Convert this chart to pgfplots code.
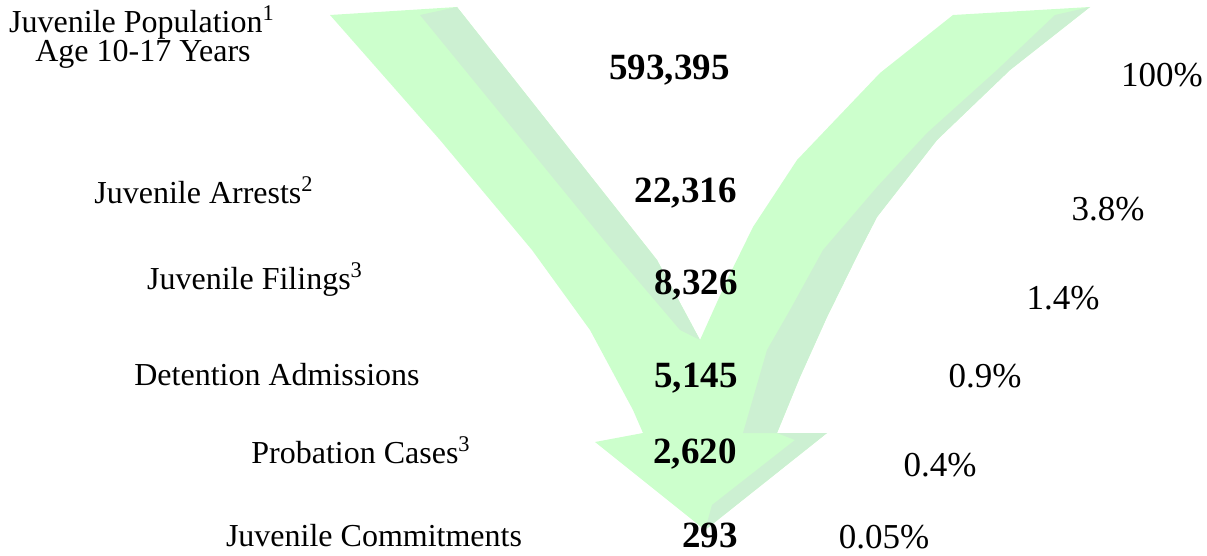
\documentclass[border=0pt]{standalone}
\usepackage{fontspec}
\setmainfont{Liberation Serif}
\usepackage{pgfplots}
\pgfplotsset{compat=1.18}

\definecolor{arrowface}{RGB}{204,255,204}
\definecolor{arrowside}{RGB}{204,240,210}

\begin{document}
\begin{tikzpicture}
\begin{axis}[
  width=603.5pt, height=278pt, scale only axis,
  xmin=0, xmax=1207, ymin=0, ymax=556, y dir=reverse,
  hide axis, clip=false,
]
% keep the whole frame in the bounding box
\path (rel axis cs:0,0) rectangle (rel axis cs:1,1);

% arrow body (pixel coordinates, y downwards)
\addplot[fill=arrowface, draw=none] coordinates {
  (330,15) (457,7) (657,260) (700,340) (727,280) (753,227) (797,160)
  (880,73) (953,15) (1090,7) (1010,70) (937,140) (877,217) (860,250)
  (827,317) (800,377) (777,433) (827,433) (705,530) (595,442) (643,433)
  (633,410) (590,330) (532,250) (440,140)
} -- cycle;
% shaded sides
\addplot[fill=arrowside, draw=none] coordinates {
  (420,15) (457,7) (657,260) (700,340) (680,330) (612,250)
} -- cycle;
\addplot[fill=arrowside, draw=none] coordinates {
  (1055,15) (1090,7) (1010,70) (937,140) (877,217) (860,250) (827,317)
  (800,377) (777,433) (743,433) (767,350) (790,310) (823,250) (877,187)
  (927,133) (997,70)
} -- cycle;
\addplot[fill=arrowside, draw=none] coordinates {
  (777,433) (827,433) (705,530) (712,505) (795,440)
} -- cycle;

% stage labels
\addplot[draw=none, nodes near coords, point meta=explicit symbolic,
  every node near coord/.append style={anchor=base, inner sep=0pt,
    font=\fontsize{16}{16}\selectfont}]
coordinates {
  (142,33) [Juvenile Population\textsuperscript{1}]
  (143,62) [Age 10-17 Years]
  (204,204) [Juvenile Arrests\textsuperscript{2}]
  (255,290) [Juvenile Filings\textsuperscript{3}]
  (277,386) [Detention Admissions]
  (361,464) [Probation Cases\textsuperscript{3}]
  (374,546) [Juvenile Commitments]
};

% counts
\addplot[draw=none, nodes near coords, point meta=explicit symbolic,
  every node near coord/.append style={anchor=base east, inner sep=0pt,
    font=\bfseries\fontsize{18.5}{18.5}\selectfont}]
coordinates {
  (730,80) [{593,395}]
  (737,203) [{22,316}]
  (738,295) [{8,326}]
  (738,387) [{5,145}]
  (737,463) [{2,620}]
  (738,547) [{293}]
};

% shares
\addplot[draw=none, nodes near coords, point meta=explicit symbolic,
  every node near coord/.append style={anchor=base, inner sep=0pt,
    font=\fontsize{17.5}{17.5}\selectfont}]
coordinates {
  (1162,87) [100\%]
  (1108,221) [3.8\%]
  (1063,310) [1.4\%]
  (985,387) [0.9\%]
  (940,476) [0.4\%]
  (884,548) [0.05\%]
};
\end{axis}
\end{tikzpicture}
\end{document}
